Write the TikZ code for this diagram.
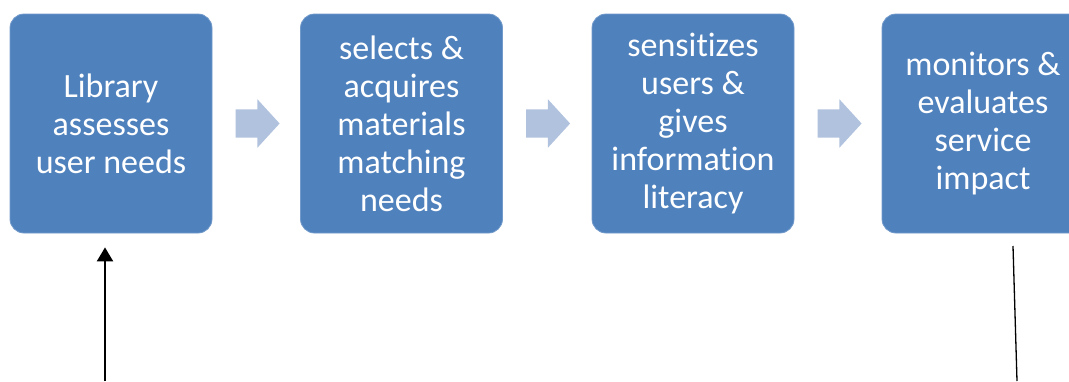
\documentclass[tikz,border=0pt]{standalone}
\usepackage{fontspec}
\setmainfont{Carlito}[Ligatures=NoCommon]
\usetikzlibrary{shapes.arrows,arrows.meta,calc}

\definecolor{boxblue}{RGB}{79,129,189}
\definecolor{arrowblue}{RGB}{176,194,222}

\tikzset{
    stepbox/.style={rectangle, rounded corners=14pt, fill=boxblue, draw=boxblue!80!white,
        line width=0.8pt, minimum width=202pt, minimum height=219pt, text=white,
        align=center, font=\fontsize{34}{38}\selectfont},
    chevron/.style={single arrow, fill=arrowblue, draw=none, minimum height=44pt,
        single arrow head extend=10pt, single arrow tip angle=95,
        inner xsep=0pt, inner ysep=14pt, anchor=tail}
}

\begin{document}
\begin{tikzpicture}[x=1pt, y=-1pt]

    % Frame
    \def\picw{1069}
    \def\pich{381}
    \useasboundingbox (0,0) rectangle (\picw,\pich);
    \clip (0,0) rectangle (\picw,\pich);

    % Steps
    \node[stepbox] (assess)  at (111,123.5) {Library\\assesses\\user needs};
    \node[stepbox] (acquire) at (401.5,123.5) {selects \&\\acquires\\materials\\matching\\needs};
    \node[stepbox] (inform)  at (693,123.5) {sensitizes\\users \&\\gives\\information\\literacy};
    \node[stepbox] (monitor) at (983,123.5) {monitors \&\\evaluates\\service\\impact};

    % Arrows between steps
    \foreach \a [count=\i] in {assess, acquire, inform}
        \node[chevron] (chev\i) at ([xshift=23pt]\a.east) {};

    % Feedback lines
    \coordinate (loopin)  at (105,\pich);
    \coordinate (loopout) at (1013,246);
    \coordinate (loopend) at (1017,\pich);
    \draw[line width=2.2pt, -{Triangle[width=16pt,length=14pt]}] (loopin) -- ([yshift=-14pt]assess.south -| loopin);
    \draw[line width=1.3pt] (loopout) -- (loopend);

\end{tikzpicture}
\end{document}
